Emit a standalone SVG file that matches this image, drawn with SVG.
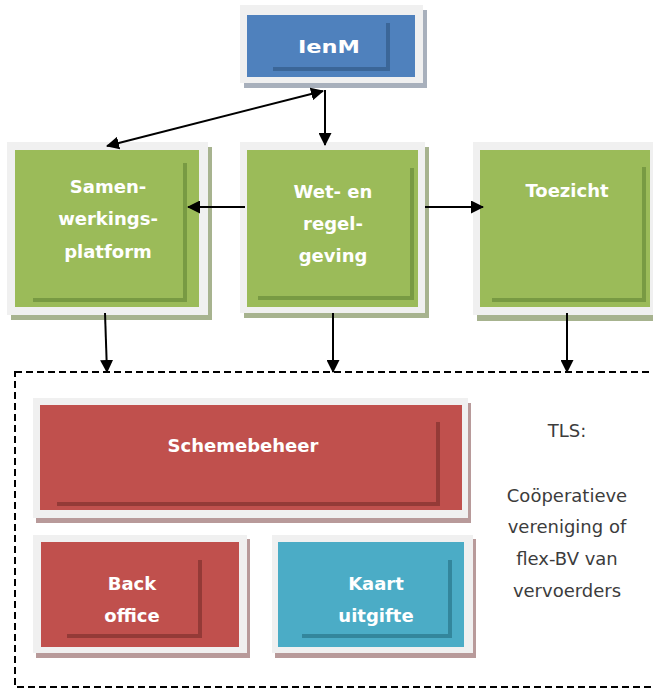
<svg xmlns="http://www.w3.org/2000/svg" width="653" height="689" viewBox="0 0 653 689">
<defs>
<style>
.frame{fill:#f0f0f0}
.lbl{font-family:"DejaVu Sans",Verdana,sans-serif;font-weight:bold;font-size:18px;fill:#ffffff;text-anchor:middle}
.tls{font-family:"DejaVu Sans",Verdana,sans-serif;font-size:18px;fill:#3c3c3c;text-anchor:middle}
.conn{stroke:#000;stroke-width:2;fill:none}
.in{fill:none;stroke-width:4}
</style>
<marker id="ah" viewBox="0 0 13 13" refX="12" refY="6.5" markerWidth="13" markerHeight="13" markerUnits="userSpaceOnUse" orient="auto-start-reverse">
<path d="M0,0 L13,6.5 L0,13 z" fill="#000"/>
</marker>
</defs>
<rect width="653" height="689" fill="#ffffff"/>

<g id="ienm">
<rect x="244" y="10" width="183" height="78" fill="#a8b0bc"/>
<rect class="frame" x="240" y="5" width="183" height="78"/>
<rect x="247" y="15" width="168" height="62" fill="#4f81bd"/>
<polyline class="in" points="273,69 388,69 388,23" stroke="#3b6698"/>
<text class="lbl" x="329" y="53" font-size="21" textLength="62" lengthAdjust="spacingAndGlyphs">IenM</text>
</g>

<g id="samen">
<rect x="11" y="147" width="201" height="173" fill="#a7b38f"/>
<rect class="frame" x="7" y="142" width="201" height="173"/>
<rect x="15" y="150" width="184" height="157" fill="#9bbb59"/>
<polyline class="in" points="33,300 185,300 185,163" stroke="#789a43"/>
<text class="lbl" x="108" y="193">Samen-</text>
<text class="lbl" x="108" y="225">werkings-</text>
<text class="lbl" x="108" y="258">platform</text>
</g>

<g id="wet">
<rect x="244" y="147" width="185" height="171" fill="#a7b38f"/>
<rect class="frame" x="240" y="142" width="185" height="171"/>
<rect x="247" y="150" width="171" height="157" fill="#9bbb59"/>
<polyline class="in" points="258,298 412,298 412,168" stroke="#789a43"/>
<text class="lbl" x="333" y="198">Wet- en</text>
<text class="lbl" x="333" y="230">regel-</text>
<text class="lbl" x="333" y="262">geving</text>
</g>

<g id="toezicht">
<rect x="477" y="315" width="181" height="6" fill="#a7b38f"/>
<rect class="frame" x="473" y="142" width="181" height="173"/>
<rect x="480" y="150" width="170" height="157" fill="#9bbb59"/>
<polyline class="in" points="492,300 644,300 644,167" stroke="#789a43"/>
<text class="lbl" x="567" y="197">Toezicht</text>
</g>

<g id="tls-container">
<rect x="15" y="372" width="650" height="315" fill="none" stroke="#000" stroke-width="2" stroke-dasharray="7,4"/>
</g>

<g id="schemebeheer">
<rect x="36" y="403" width="435" height="120" fill="#b89a9a"/>
<rect class="frame" x="33" y="398" width="435" height="120"/>
<rect x="40" y="405" width="422" height="105" fill="#c0504d"/>
<polyline class="in" points="57,504 438,504 438,422" stroke="#943a37"/>
<text class="lbl" x="243" y="452">Schemebeheer</text>
</g>

<g id="backoffice">
<rect x="36" y="539" width="214" height="119" fill="#b89a9a"/>
<rect class="frame" x="33" y="535" width="214" height="118"/>
<rect x="41" y="542" width="198" height="105" fill="#c0504d"/>
<polyline class="in" points="67,636 200,636 200,560" stroke="#943a37"/>
<text class="lbl" x="132" y="590">Back</text>
<text class="lbl" x="132" y="622">office</text>
</g>

<g id="kaart">
<rect x="275" y="539" width="201" height="119" fill="#b89a9a"/>
<rect class="frame" x="272" y="535" width="201" height="118"/>
<rect x="278" y="542" width="186" height="105" fill="#4bacc6"/>
<polyline class="in" points="302,636 450,636 450,560" stroke="#33869c"/>
<text class="lbl" x="376" y="590">Kaart</text>
<text class="lbl" x="376" y="622">uitgifte</text>
</g>

<g id="tls-text">
<text class="tls" x="567" y="437">TLS:</text>
<text class="tls" x="567" y="502">Coöperatieve</text>
<text class="tls" x="567" y="533">vereniging of</text>
<text class="tls" x="567" y="565">flex-BV van</text>
<text class="tls" x="567" y="597">vervoerders</text>
</g>

<g id="connectors">
<line class="conn" x1="107" y1="146" x2="323" y2="91" marker-start="url(#ah)" marker-end="url(#ah)"/>
<line class="conn" x1="325" y1="90" x2="325" y2="145" marker-end="url(#ah)"/>
<line class="conn" x1="245" y1="207" x2="188" y2="207" marker-end="url(#ah)"/>
<line class="conn" x1="425" y1="207" x2="483" y2="207" marker-end="url(#ah)"/>
<line class="conn" x1="105" y1="313" x2="107" y2="372" marker-end="url(#ah)"/>
<line class="conn" x1="333" y1="313" x2="333" y2="372" marker-end="url(#ah)"/>
<line class="conn" x1="567" y1="313" x2="567" y2="372" marker-end="url(#ah)"/>
</g>
</svg>
